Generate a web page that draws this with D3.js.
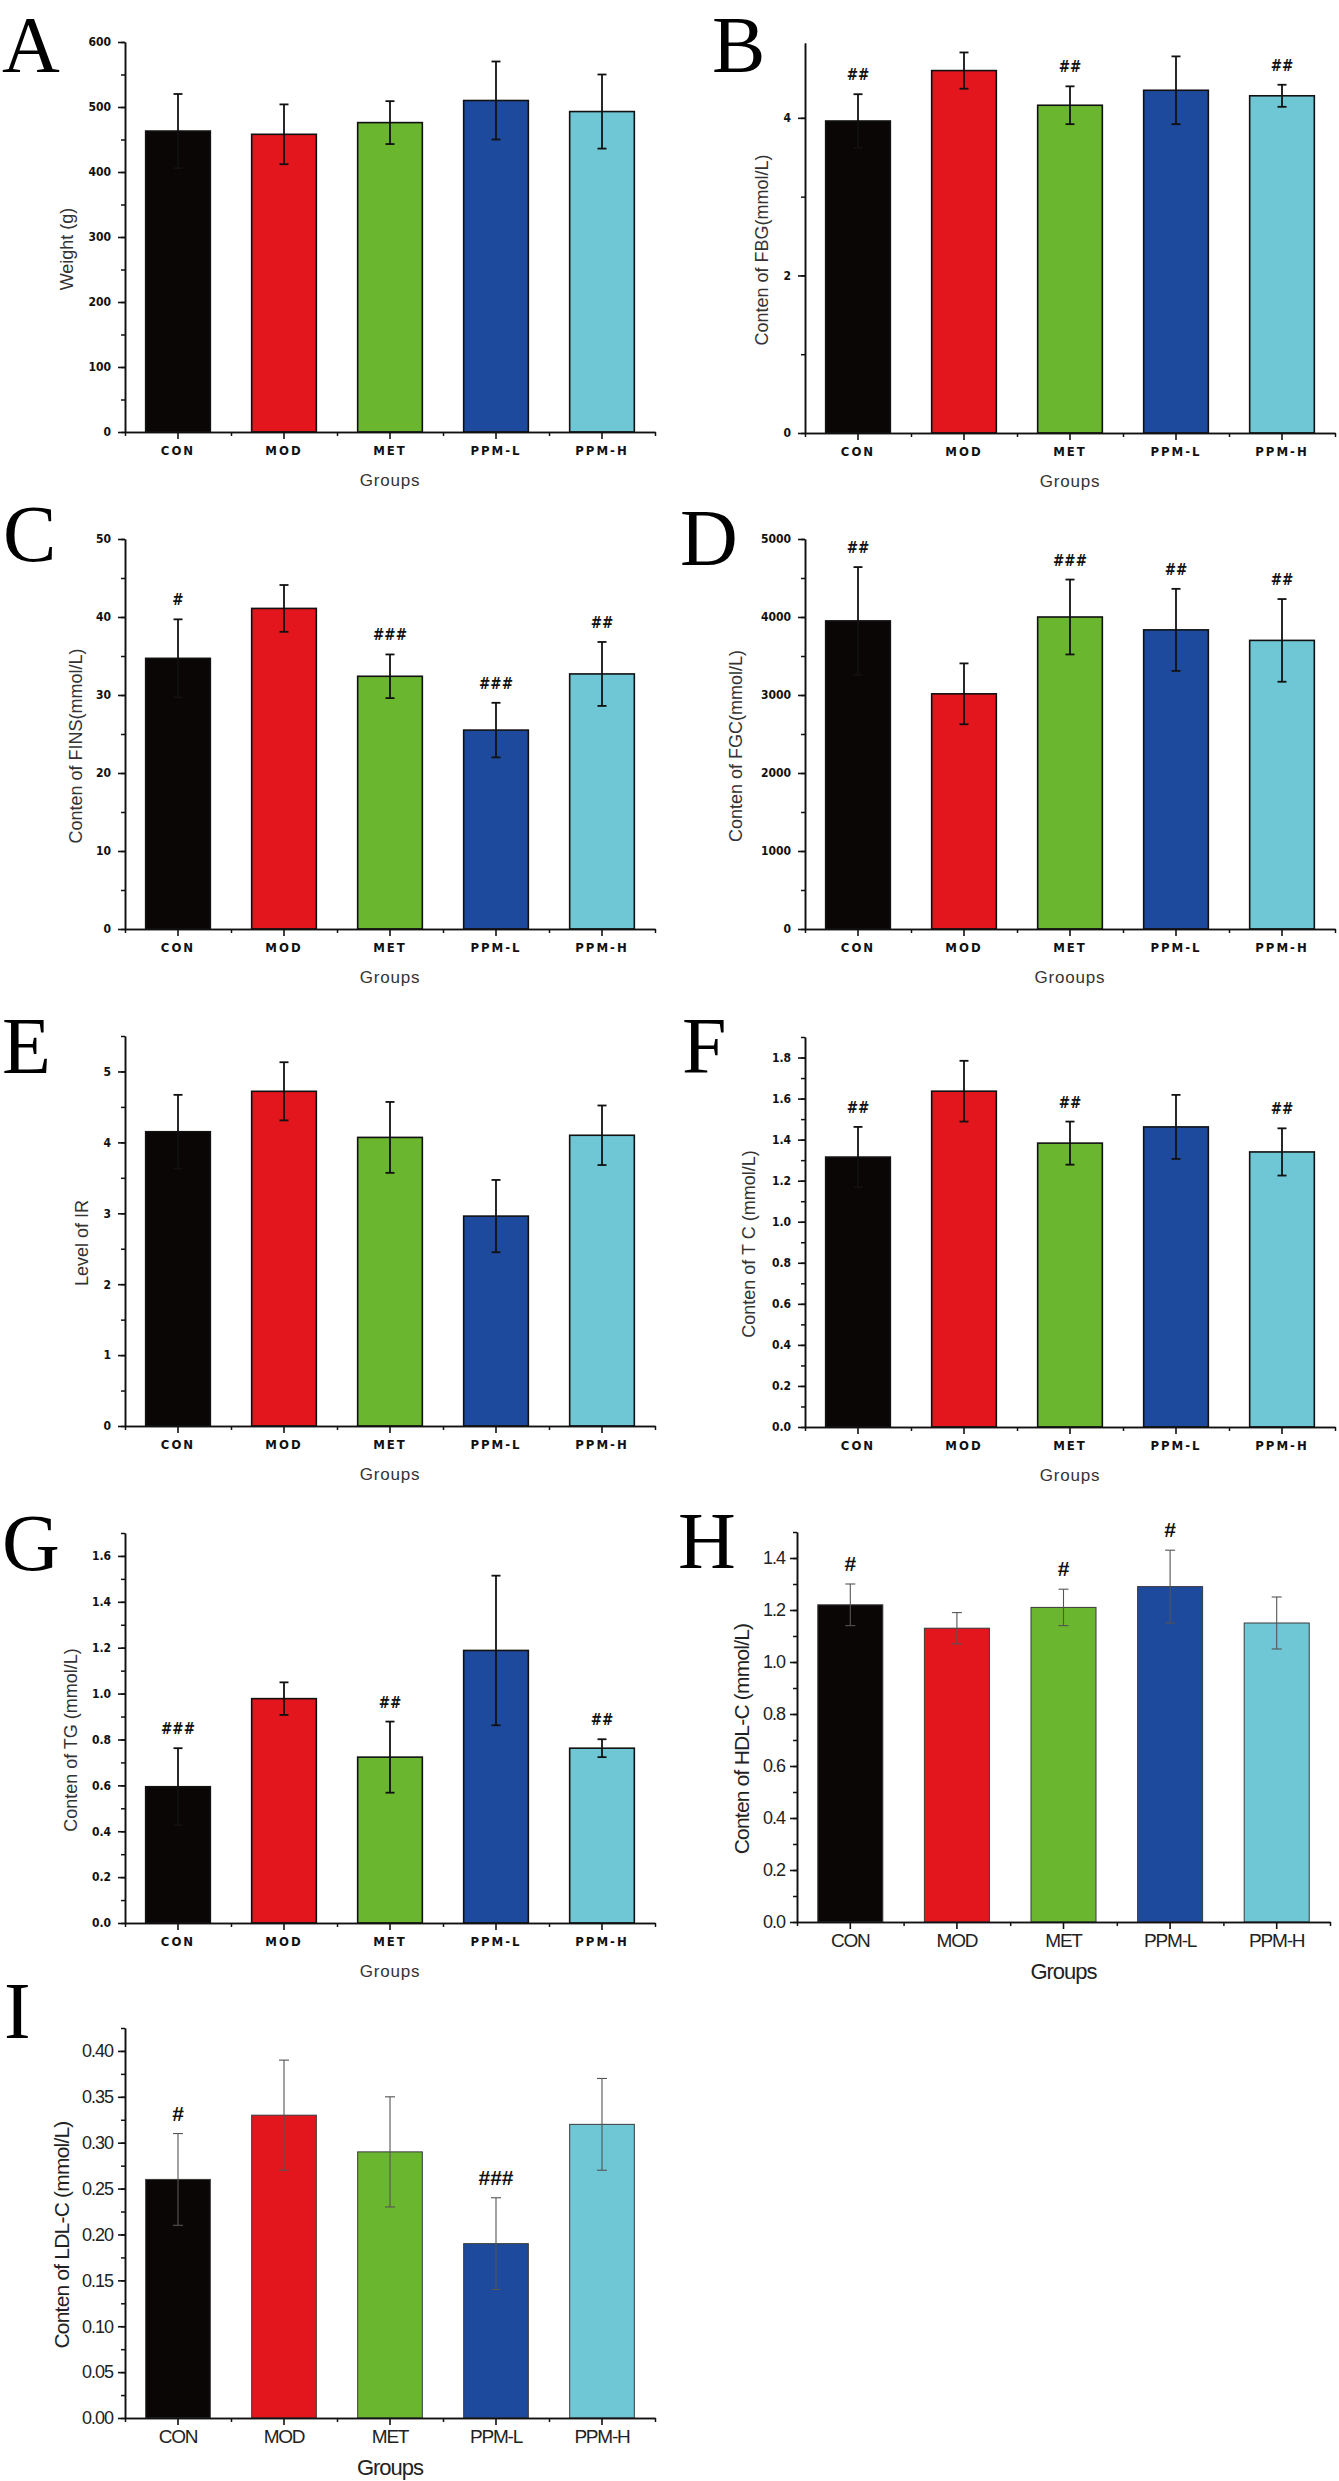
<!DOCTYPE html>
<html><head><meta charset="utf-8">
<script src="https://cdn.jsdelivr.net/npm/d3@7"></script>
<style>body{margin:0;background:#fff}svg{display:block}</style>
</head><body>
<svg id="chart" width="1339" height="2481"></svg>
<script>
// ---------- data ----------
const groups = ["CON", "MOD", "MET", "PPM-L", "PPM-H"];
const barColors = ["#0b0606", "#e3151d", "#6ab62e", "#1e4a9d", "#6fc6d5"];

const weightMean = [463, 458, 476, 510, 493];
const weightErr  = [57, 46, 33, 60, 57];
const weightSig  = ["", "", "", "", ""];
const weightTicks = [0, 100, 200, 300, 400, 500, 600];

const fbgMean = [3.96, 4.60, 4.16, 4.35, 4.28];
const fbgErr  = [0.34, 0.23, 0.24, 0.43, 0.14];
const fbgSig  = ["##", "", "##", "", "##"];
const fbgTicks = [0, 2, 4];

const finsMean = [34.7, 41.1, 32.4, 25.5, 32.7];
const finsErr  = [5.0, 3.0, 2.8, 3.5, 4.1];
const finsSig  = ["#", "", "###", "###", "##"];
const finsTicks = [0, 10, 20, 30, 40, 50];

const fgcMean = [3950, 3015, 4000, 3835, 3700];
const fgcErr  = [690, 390, 480, 526, 530];
const fgcSig  = ["##", "", "###", "##", "##"];
const fgcTicks = [0, 1000, 2000, 3000, 4000, 5000];

const irMean = [4.15, 4.72, 4.07, 2.96, 4.10];
const irErr  = [0.52, 0.41, 0.50, 0.51, 0.42];
const irSig  = ["", "", "", "", ""];
const irTicks = [0, 1, 2, 3, 4, 5];

const tcMean = [1.315, 1.636, 1.383, 1.462, 1.340];
const tcErr  = [0.147, 0.148, 0.105, 0.156, 0.115];
const tcSig  = ["##", "", "##", "", "##"];
const tcTicks = [0, 0.2, 0.4, 0.6, 0.8, 1.0, 1.2, 1.4, 1.6, 1.8];

const tgMean = [0.594, 0.978, 0.723, 1.188, 0.762];
const tgErr  = [0.168, 0.071, 0.155, 0.326, 0.039];
const tgSig  = ["###", "", "##", "", "##"];
const tgTicks = [0, 0.2, 0.4, 0.6, 0.8, 1.0, 1.2, 1.4, 1.6];

const hdlMean = [1.22, 1.13, 1.21, 1.29, 1.15];
const hdlErr  = [0.08, 0.06, 0.07, 0.14, 0.10];
const hdlSig  = ["#", "", "#", "#", ""];
const hdlTicks = [0, 0.2, 0.4, 0.6, 0.8, 1.0, 1.2, 1.4];

const ldlMean = [0.26, 0.33, 0.29, 0.19, 0.32];
const ldlErr  = [0.05, 0.06, 0.06, 0.05, 0.05];
const ldlSig  = ["#", "", "", "###", ""];
const ldlTicks = [0, 0.05, 0.10, 0.15, 0.20, 0.25, 0.30, 0.35, 0.40];

// ---------- layout ----------
const rowTop = [42, 539, 1036, 1533, 2028];
const axisH = 390;
const colX = [125, 805];
const axisW = 530;
const letterSize = 80;

const panels = [
  {L:"A", mean:weightMean, err:weightErr, sig:weightSig, ticks:weightTicks, max:600, minor:50, fmt:d3.format("d"),
   ylabel:"Weight (g)", xtitle:"Groups", x0:colX[0], w:axisW, top:rowTop[0], style:"o", lx:2, ly:72, ydx:-58},
  {L:"B", mean:fbgMean, err:fbgErr, sig:fbgSig, ticks:fbgTicks, max:4.95, minor:1, fmt:d3.format("d"),
   ylabel:"Conten of FBG(mmol/L)", xtitle:"Groups", x0:colX[1], w:axisW, top:rowTop[0]+1, style:"o", lx:712, ly:72, ydx:-43},
  {L:"C", mean:finsMean, err:finsErr, sig:finsSig, ticks:finsTicks, max:50, minor:5, fmt:d3.format("d"),
   ylabel:"Conten of FINS(mmol/L)", xtitle:"Groups", x0:colX[0], w:axisW, top:rowTop[1], style:"o", lx:3, ly:561, ydx:-49},
  {L:"D", mean:fgcMean, err:fgcErr, sig:fgcSig, ticks:fgcTicks, max:5000, minor:500, fmt:d3.format("d"),
   ylabel:"Conten of FGC(mmol/L)", xtitle:"Grooups", x0:colX[1], w:axisW, top:rowTop[1], style:"o", lx:680, ly:565, ydx:-69},
  {L:"E", mean:irMean, err:irErr, sig:irSig, ticks:irTicks, max:5.5, minor:0.5, fmt:d3.format("d"),
   ylabel:"Level of IR", xtitle:"Groups", x0:colX[0], w:axisW, top:rowTop[2], style:"o", lx:2, ly:1073, ydx:-43},
  {L:"F", mean:tcMean, err:tcErr, sig:tcSig, ticks:tcTicks, max:1.9, minor:0.1, fmt:d3.format(".1f"),
   ylabel:"Conten of T C (mmol/L)", xtitle:"Groups", x0:colX[1], w:axisW, top:rowTop[2]+1, style:"o", lx:682, ly:1073, ydx:-56},
  {L:"G", mean:tgMean, err:tgErr, sig:tgSig, ticks:tgTicks, max:1.7, minor:0.1, fmt:d3.format(".1f"),
   ylabel:"Conten of TG (mmol/L)", xtitle:"Groups", x0:colX[0], w:axisW, top:rowTop[3], style:"o", lx:2, ly:1570, ydx:-54},
  {L:"H", mean:hdlMean, err:hdlErr, sig:hdlSig, ticks:hdlTicks, max:1.5, minor:0.1, fmt:d3.format(".1f"),
   ylabel:"Conten of HDL-C (mmol/L)", xtitle:"Groups", x0:797, w:533, top:rowTop[3]-1, style:"a", lx:678, ly:1568, ydx:-56},
  {L:"I", mean:ldlMean, err:ldlErr, sig:ldlSig, ticks:ldlTicks, max:0.425, minor:0.025, fmt:d3.format(".2f"),
   ylabel:"Conten of LDL-C (mmol/L)", xtitle:"Groups", x0:colX[0], w:axisW, top:rowTop[4], style:"a", lx:4, ly:2038, ydx:-64}
];

const svg = d3.select("#chart");
const ORIG_FONT = "'DejaVu Sans Condensed','DejaVu Sans',sans-serif";
const ARIAL = "'Liberation Sans',Arial,sans-serif";

panels.forEach(p => {
  const o = p.style === "o";
  const bottom = p.top + axisH;
  const g = svg.append("g");

  const x = d3.scaleBand().domain(groups).range([p.x0, p.x0 + p.w])
    .paddingInner(0.39).paddingOuter(0.195);
  const xEdge = d3.scaleLinear().domain([0, groups.length]).range([p.x0, p.x0 + p.w]);
  const y = d3.scaleLinear().domain([0, p.max]).range([bottom, p.top]);

  // panel letter
  g.append("text").attr("x", p.lx).attr("y", p.ly)
    .attr("font-family", "'Liberation Serif','Times New Roman',serif")
    .attr("font-size", letterSize).attr("fill", "#000").text(p.L);

  // bars
  g.selectAll("rect.bar").data(groups).join("rect").attr("class", "bar")
    .attr("x", d => x(d)).attr("width", x.bandwidth())
    .attr("y", (d, i) => y(p.mean[i]))
    .attr("height", (d, i) => y(0) - y(p.mean[i]))
    .attr("fill", (d, i) => barColors[i])
    .attr("stroke", o ? "#111" : "#3a3a3a").attr("stroke-width", o ? 1.6 : 1);

  // error bars
  const ec = o ? "#111" : "#555";
  const ew = o ? 1.8 : 1.1;
  const cap = o ? 4.5 : 5;
  const eg = g.append("g").attr("stroke", ec).attr("stroke-width", ew);
  groups.forEach((d, i) => {
    const cx = x(d) + x.bandwidth() / 2;
    const hi = y(p.mean[i] + p.err[i]), lo = y(p.mean[i] - p.err[i]);
    eg.append("line").attr("x1", cx).attr("x2", cx).attr("y1", hi).attr("y2", lo);
    eg.append("line").attr("x1", cx - cap).attr("x2", cx + cap).attr("y1", hi).attr("y2", hi);
    eg.append("line").attr("x1", cx - cap).attr("x2", cx + cap).attr("y1", lo).attr("y2", lo);
  });

  // significance marks
  g.selectAll("text.sig").data(groups).join("text").attr("class", "sig")
    .attr("x", d => x(d) + x.bandwidth() / 2)
    .attr("y", (d, i) => y(p.mean[i] + p.err[i]) - (o ? 14 : 13))
    .attr("text-anchor", "middle")
    .attr("font-family", o ? ORIG_FONT : ARIAL)
    .attr("font-weight", "bold")
    .attr("font-size", o ? 15 : 21)
    .attr("fill", "#111")
    .text((d, i) => p.sig[i]);

  // y axis minor ticks
  const minorVals = d3.range(0, p.max + 1e-9, p.minor);
  g.append("g").attr("transform", `translate(${p.x0},0)`)
    .call(d3.axisLeft(y).tickValues(minorVals).tickSize(4).tickSizeOuter(0).tickFormat(""))
    .call(s => s.selectAll("line,path").attr("stroke", "#111").attr("stroke-width", 1.5));

  // y axis major
  g.append("g").attr("transform", `translate(${p.x0},0)`)
    .call(d3.axisLeft(y).tickValues(p.ticks).tickFormat(p.fmt).tickSize(7).tickSizeOuter(0).tickPadding(o ? 7 : 5))
    .call(s => {
      s.selectAll("line,path").attr("stroke", "#111").attr("stroke-width", 1.6);
      s.selectAll("text").attr("font-family", o ? ORIG_FONT : ARIAL)
        .attr("font-weight", o ? "bold" : "normal")
        .attr("font-size", o ? 12 : 18)
        .attr("letter-spacing", o ? 0 : -1)
        .attr("fill", o ? "#111" : "#222");
    });

  // x axis minor ticks (band edges)
  g.append("g").attr("transform", `translate(0,${bottom})`)
    .call(d3.axisBottom(xEdge).tickValues(d3.range(0, groups.length + 1)).tickSize(4).tickSizeOuter(0).tickFormat(""))
    .call(s => s.selectAll("line,path").attr("stroke", "#111").attr("stroke-width", 1.5));

  // x axis major
  g.append("g").attr("transform", `translate(0,${bottom})`)
    .call(d3.axisBottom(x).tickSize(7).tickSizeOuter(0).tickPadding(o ? 7 : 5))
    .call(s => {
      s.selectAll("line,path").attr("stroke", "#111").attr("stroke-width", 1.6);
      s.selectAll("text").attr("font-family", o ? ORIG_FONT : ARIAL)
        .attr("font-weight", o ? "bold" : "normal")
        .attr("font-size", o ? 13 : 19)
        .attr("letter-spacing", o ? 2 : -1.2)
        .attr("fill", o ? "#111" : "#222");
    });

  // x title
  g.append("text").attr("x", p.x0 + p.w / 2).attr("y", bottom + (o ? 54 : 57))
    .attr("text-anchor", "middle")
    .attr("font-family", ARIAL).attr("font-size", o ? 17 : 22)
    .attr("letter-spacing", o ? 0.8 : -1)
    .attr("fill", o ? "#333" : "#222").text(p.xtitle);

  // y title
  const yc = (p.top + bottom) / 2 + 12;
  g.append("text")
    .attr("transform", `translate(${p.x0 + p.ydx},${yc}) rotate(-90)`)
    .attr("text-anchor", "middle").attr("dominant-baseline", "central")
    .attr("font-family", ARIAL).attr("font-size", o ? 18 : 21)
    .attr("letter-spacing", o ? 0 : -0.8)
    .attr("fill", o ? "#333" : "#222").text(p.ylabel);
});
</script>
</body></html>
